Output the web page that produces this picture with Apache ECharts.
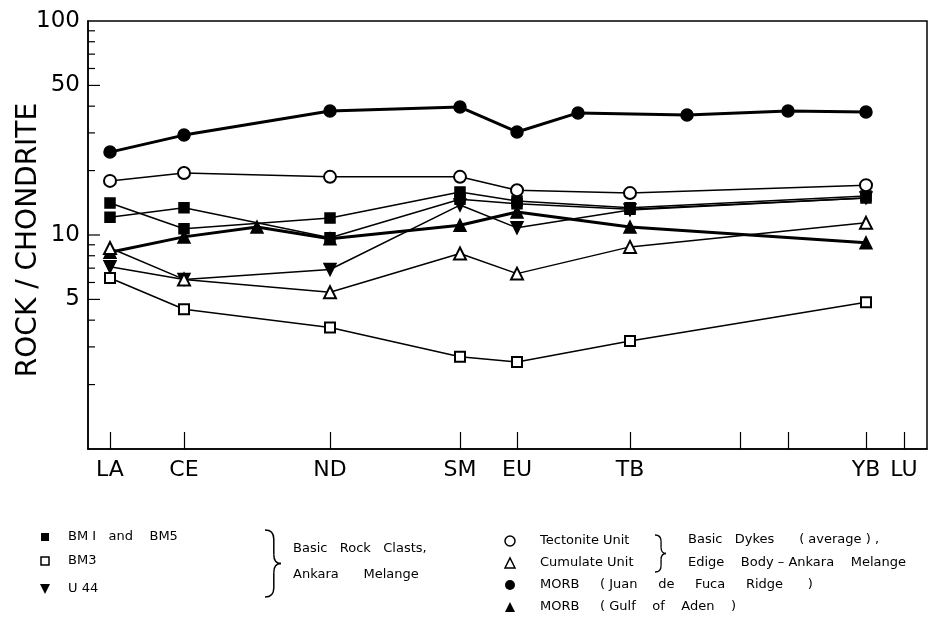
<!DOCTYPE html>
<html><head><meta charset="utf-8">
<script src="https://cdn.jsdelivr.net/npm/echarts@6/dist/echarts.min.js"></script>
<style>html,body{margin:0;padding:0;background:#fff}#c{width:929px;height:627px}</style>
</head><body><div id="c"></div>
<script>
// Abscissa positions of the REE (axis units along the element axis)
const elementNames = ['La','Ce','Pr','Nd','Sm','Eu','Gd','Tb','Dy','Ho','Er','Yb','Lu'];
const elementPos   = [22, 96, 169, 242, 372, 429, 490, 542, 599, 652, 700, 778, 816];
const xTickElements  = ['La','Ce','Nd','Sm','Eu','Tb','Ho','Er','Yb','Lu'];
const xLabelElements = ['La','Ce','Nd','Sm','Eu','Tb','Yb','Lu'];
const xLabelText     = ['LA','CE','ND','SM','EU','TB','YB','LU'];

// Y axis (log) ticks and labels
const yLabelValues = [5, 10, 50, 100];
const yMajorTicks  = [5, 10, 50];
const yMinorTicks  = [2, 3, 4, 6, 7, 8, 9, 20, 30, 40, 60, 70, 80, 90];

// Series (rock / chondrite)
const ankaraElements = ['La','Ce','Nd','Sm','Eu','Tb','Yb'];
const bm1aValues      = [14.1, 10.7, 12.0, 15.9, 14.4, 13.4, 15.2];
const bm1bValues      = [12.1, 13.4, 9.7, 14.7, 14.0, 13.2, 14.9];
const bm3Values       = [6.3, 4.5, 3.7, 2.7, 2.55, 3.2, 4.85];
const u44Values       = [7.1, 6.2, 6.9, 13.8, 10.8, 13.1, 14.9];
const tectoniteValues = [17.9, 19.5, 18.7, 18.7, 16.2, 15.7, 17.1];
const cumulateValues  = [8.7, 6.2, 5.4, 8.2, 6.6, 8.8, 11.4];
const jdfElements = ['La','Ce','Nd','Sm','Eu','Gd','Dy','Er','Yb'];
const jdfValues   = [24.4, 29.3, 38.0, 39.6, 30.3, 37.2, 36.4, 38.0, 37.6];
const adenElements = ['La','Ce','Pr','Nd','Sm','Eu','Tb','Yb'];
const adenValues   = [8.3, 9.8, 10.9, 9.6, 11.1, 12.8, 10.9, 9.2];

const FONT = 'DejaVu Sans';
const posOf = n => elementPos[elementNames.indexOf(n)];
const pts = (els, vals) => els.map((e, i) => [posOf(e), vals[i]]);

function lineSeries(name, els, vals, symbol, size, width, extra) {
  return Object.assign({
    name, type: 'line', data: pts(els, vals), symbol, symbolSize: size,
    lineStyle: { color: '#000', width },
    itemStyle: { color: '#000', borderColor: '#000', borderWidth: 1.5 },
    emphasis: { disabled: true }, animation: false
  }, extra || {});
}

const txt = (x, y, text, size, align) => ({
  type: 'text', x, y,
  style: { text, fontFamily: FONT, fontSize: size || 13, fill: '#000', align: align || 'left', verticalAlign: 'middle' }
});

// right-opening curly brace built from curves and lines
function brace(x, yTop, yBot, w, lw) {
  const xm = x + w * 0.55, yc = (yTop + yBot) / 2, r = Math.min(9, (yBot - yTop) / 6);
  const st = { stroke: '#000', lineWidth: lw, fill: null };
  return [
    { type: 'bezierCurve', shape: { x1: x, y1: yTop, cpx1: xm, cpy1: yTop, x2: xm, y2: yTop + r }, style: st },
    { type: 'line', shape: { x1: xm, y1: yTop + r, x2: xm, y2: yc - r }, style: st },
    { type: 'bezierCurve', shape: { x1: xm, y1: yc - r, cpx1: xm, cpy1: yc, x2: x + w, y2: yc }, style: st },
    { type: 'bezierCurve', shape: { x1: x + w, y1: yc, cpx1: xm, cpy1: yc, x2: xm, y2: yc + r }, style: st },
    { type: 'line', shape: { x1: xm, y1: yc + r, x2: xm, y2: yBot - r }, style: st },
    { type: 'bezierCurve', shape: { x1: xm, y1: yBot - r, cpx1: xm, cpy1: yBot, x2: x, y2: yBot }, style: st }
  ];
}

const chart = echarts.init(document.getElementById('c'), null, { renderer: 'canvas' });

const option = {
  backgroundColor: '#fff',
  animation: false,
  grid: { left: 88, right: 2, top: 21, bottom: 178, show: true, borderColor: '#000', borderWidth: 1.5 },
  xAxis: {
    type: 'value', min: 0, max: 839,
    axisLine: { show: true, lineStyle: { color: '#000', width: 1.5 } },
    axisTick: { show: true, inside: true, length: 17, customValues: xTickElements.map(posOf), lineStyle: { color: '#000', width: 1.2 } },
    axisLabel: {
      show: true, customValues: xLabelElements.map(posOf), margin: 10,
      formatter: v => xLabelText[xLabelElements.map(posOf).indexOf(v)],
      fontFamily: FONT, fontSize: 22, color: '#000'
    },
    splitLine: { show: false }
  },
  yAxis: {
    type: 'log', min: 1, max: 100, logBase: 10,
    axisLine: { show: true, lineStyle: { color: '#000', width: 1.5 } },
    axisTick: { show: false }, axisLabel: { show: false }, splitLine: { show: false }
  },
  series: [
    {
      type: 'custom', silent: true, clip: false, z: 5,
      data: yMinorTicks.map(v => [0, v, 7]).concat(yMajorTicks.map(v => [0, v, 12])),
      renderItem: (params, api) => {
        const p = api.coord([api.value(0), api.value(1)]);
        return { type: 'line', shape: { x1: p[0], y1: p[1], x2: p[0] + api.value(2), y2: p[1] },
                 style: { stroke: '#000', lineWidth: 1.2 } };
      }
    },
    {
      type: 'custom', silent: true, clip: false, z: 5,
      data: yLabelValues.map(v => [0, v]),
      renderItem: (params, api) => {
        const p = api.coord([api.value(0), api.value(1)]);
        return { type: 'text', x: p[0] - 8, y: p[1],
                 style: { text: String(api.value(1)), fontFamily: FONT, fontSize: 23, fill: '#000', align: 'right', verticalAlign: 'middle' } };
      }
    },
    lineSeries('MORB (Juan de Fuca Ridge)', jdfElements, jdfValues, 'circle', 12, 3),
    lineSeries('MORB (Gulf of Aden)', adenElements, adenValues, 'triangle', 12, 3),
    lineSeries('BM1 and BM5', ankaraElements, bm1aValues, 'rect', 10, 1.5),
    lineSeries('BM1 and BM5', ankaraElements, bm1bValues, 'rect', 10, 1.5),
    lineSeries('U44', ankaraElements, u44Values, 'triangle', 12, 1.5, { symbolRotate: 180 }),
    lineSeries('BM3', ankaraElements, bm3Values, 'emptyRect', 10, 1.5),
    lineSeries('Cumulate Unit', ankaraElements, cumulateValues, 'emptyTriangle', 12, 1.5),
    lineSeries('Tectonite Unit', ankaraElements, tectoniteValues, 'emptyCircle', 12, 1.5)
  ],
  graphic: [
    // y axis title
    { type: 'text', x: 29, y: 240, rotation: Math.PI / 2,
      style: { text: 'ROCK / CHONDRITE', fontFamily: FONT, fontSize: 28, fill: '#000', align: 'center', verticalAlign: 'middle' } },
    // left legend
    { type: 'rect', shape: { x: 41, y: 533, width: 8, height: 8 }, style: { fill: '#000' } },
    { type: 'rect', shape: { x: 41, y: 557, width: 8, height: 8 }, style: { fill: '#fff', stroke: '#000', lineWidth: 1.5 } },
    { type: 'polygon', shape: { points: [[40, 584], [50, 584], [45, 594]] }, style: { fill: '#000' } },
    txt(68, 537, 'BM I   and    BM5'),
    txt(68, 561, 'BM3'),
    txt(68, 589, 'U 44'),
    txt(293, 549, 'Basic   Rock   Clasts,'),
    txt(293, 575, 'Ankara      Melange'),
    // right legend
    { type: 'circle', shape: { cx: 510, cy: 541, r: 5 }, style: { fill: '#fff', stroke: '#000', lineWidth: 1.5 } },
    { type: 'polygon', shape: { points: [[505, 568], [515, 568], [510, 558]] }, style: { fill: '#fff', stroke: '#000', lineWidth: 1.5 } },
    { type: 'circle', shape: { cx: 510, cy: 585, r: 5 }, style: { fill: '#000' } },
    { type: 'polygon', shape: { points: [[505, 612], [515, 612], [510, 602]] }, style: { fill: '#000' } },
    txt(540, 541, 'Tectonite Unit'),
    txt(540, 563, 'Cumulate Unit'),
    txt(540, 585, 'MORB     ( Juan     de     Fuca     Ridge      )'),
    txt(540, 607, 'MORB     ( Gulf    of    Aden    )'),
    txt(688, 540, 'Basic   Dykes      ( average ) ,'),
    txt(688, 563, 'Edige    Body – Ankara    Melange')
  ].concat(brace(265, 530, 597, 16, 1.5), brace(655, 535, 572, 11, 1.3))
};
chart.setOption(option);
</script>
</body></html>
